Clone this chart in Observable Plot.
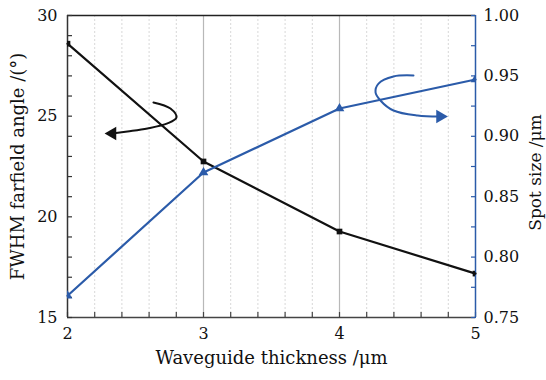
<!DOCTYPE html>
<html><head><meta charset="utf-8">
<script src="https://cdn.jsdelivr.net/npm/d3@7"></script>
<script src="https://cdn.jsdelivr.net/npm/@observablehq/plot@0.6"></script>
<style>
html,body{margin:0;padding:0;background:#fff;}
svg text, svg g{font-family:'DejaVu Serif', serif !important;}
</style>
</head><body>
<div id="chart"></div>
<script>
// Data
const thickness = [2, 3, 4, 5];                 // µm
const fwhmAngle = [28.6, 22.75, 19.27, 17.18];  // degrees (left axis)
const spotSize  = [0.768, 0.870, 0.923, 0.947]; // µm (right axis)

const xTicks = [2, 3, 4, 5];
const leftTicks = [15, 20, 25, 30];
const rightTicks = [0.75, 0.80, 0.85, 0.90, 0.95, 1.00];

// Annotation arrows (data units: x, left-axis y)
const blackArrow = [[2.632,25.68],[2.757,25.38],[2.801,24.93],[2.735,24.64],[2.588,24.39],[2.441,24.24],[2.33,24.14]];
const blueArrow  = [[4.544,27.02],[4.397,26.97],[4.287,26.62],[4.265,26.18],[4.301,25.78],[4.397,25.28],[4.574,25.03],[4.73,24.98]];
const blackHead = [[2.33,24.14]];
const blueHead = [[4.74,24.98]];

const BLUE = "#2b5ba9";
const BLACK = "#111";
const FONT = "'DejaVu Serif', serif";
// map right axis (0.75–1.00) onto left axis (15–30)
const toLeft = v => 15 + (v - 0.75) * 60;
const fromLeft = y => (y - 15) / 60 + 0.75;

const rows = thickness.map((t, i) => ({t, fwhm: fwhmAngle[i], spot: toLeft(spotSize[i])}));
const minorX = d3.range(2, 5.0001, 0.2).map(v => +v.toFixed(1)).filter(v => !Number.isInteger(v));
const allXTicks = d3.range(2, 5.0001, 0.2).map(v => +v.toFixed(1));
const leftMinor = d3.range(15, 30.001, 1);
const rightMinor = d3.range(0.75, 1.0001, 0.025).map(toLeft);

const plot = Plot.plot({
  width: 546,
  height: 380,
  marginTop: 15,
  marginBottom: 63,
  marginLeft: 67,
  marginRight: 71,
  style: {fontFamily: FONT, fontSize: "16px", color: "#111", background: "#fff"},
  x: {domain: [2, 5], axis: null},
  y: {domain: [15, 30], axis: null},
  marks: [
    // grid
    Plot.ruleX(minorX, {stroke: "#d8d8d8", strokeDasharray: "2,2", strokeWidth: 1}),
    Plot.ruleX([3, 4], {stroke: "#b8b8b8", strokeWidth: 1.2}),
    // frame top
    Plot.ruleY([30], {stroke: "#222", strokeWidth: 1.3}),
    // bottom axis
    Plot.ruleY([15], {stroke: "#444", strokeWidth: 1.5}),
    Plot.axisX({ticks: allXTicks, tickSize: -5, text: null, label: null, stroke: "#444", strokeWidth: 1.2}),
    Plot.axisX({ticks: xTicks, tickSize: 0, tickPadding: 10, fontSize: 16, fontFamily: FONT, label: null, tickFormat: d => String(d)}),
    // left axis
    Plot.ruleX([2], {stroke: "#333", strokeWidth: 1.5}),
    Plot.axisY({ticks: leftMinor, tickSize: -5, text: null, label: null, stroke: "#333", strokeWidth: 1.2}),
    Plot.axisY({ticks: leftTicks, tickSize: 0, tickPadding: 10, fontSize: 16, fontFamily: FONT, label: null}),
    // right axis
    Plot.ruleX([5], {stroke: BLUE, strokeWidth: 1.5}),
    Plot.axisY({anchor: "right", ticks: rightMinor, tickSize: -5, text: null, label: null, stroke: BLUE, strokeWidth: 1.2}),
    Plot.axisY({anchor: "right", ticks: rightTicks.map(toLeft), tickSize: 0, tickPadding: 8, fontSize: 16, fontFamily: FONT, label: null, tickFormat: d => fromLeft(d).toFixed(2)}),
    // series
    Plot.line(rows, {x: "t", y: "fwhm", stroke: BLACK, strokeWidth: 2.2}),
    Plot.line(rows, {x: "t", y: "spot", stroke: BLUE, strokeWidth: 2.2}),
    Plot.dot(rows, {x: "t", y: "fwhm", symbol: "square", fill: BLACK, r: 3.2, clip: true}),
    Plot.dot(rows, {x: "t", y: "spot", symbol: "triangle", fill: BLUE, r: 3.6, clip: true}),
    // arrows
    Plot.line(blackArrow, {x: d => d[0], y: d => d[1], curve: "catmull-rom", stroke: BLACK, strokeWidth: 2}),
    Plot.dot(blackHead, {x: d => d[0], y: d => d[1], symbol: "triangle", fill: BLACK, r: 5, rotate: -90}),
    Plot.line(blueArrow, {x: d => d[0], y: d => d[1], curve: "catmull-rom", stroke: BLUE, strokeWidth: 2}),
    Plot.dot(blueHead, {x: d => d[0], y: d => d[1], symbol: "triangle", fill: BLUE, r: 5, rotate: 90}),
    // axis titles
    Plot.text(["Waveguide thickness /μm"], {frameAnchor: "bottom", dy: 41, lineAnchor: "middle", textAnchor: "middle", fontSize: 18, fontFamily: FONT, fill: "#111"}),
    Plot.text(["FWHM farfield angle /(°)"], {frameAnchor: "left", dx: -49, rotate: -90, textAnchor: "middle", lineAnchor: "middle", fontSize: 18, fontFamily: FONT, fill: "#111"}),
    Plot.text(["Spot size /μm"], {frameAnchor: "right", dx: 60, dy: 6, rotate: -90, textAnchor: "middle", lineAnchor: "middle", fontSize: 17, fontFamily: FONT, fill: "#111"})
  ]
});
document.getElementById("chart").appendChild(plot);
</script>
</body></html>
